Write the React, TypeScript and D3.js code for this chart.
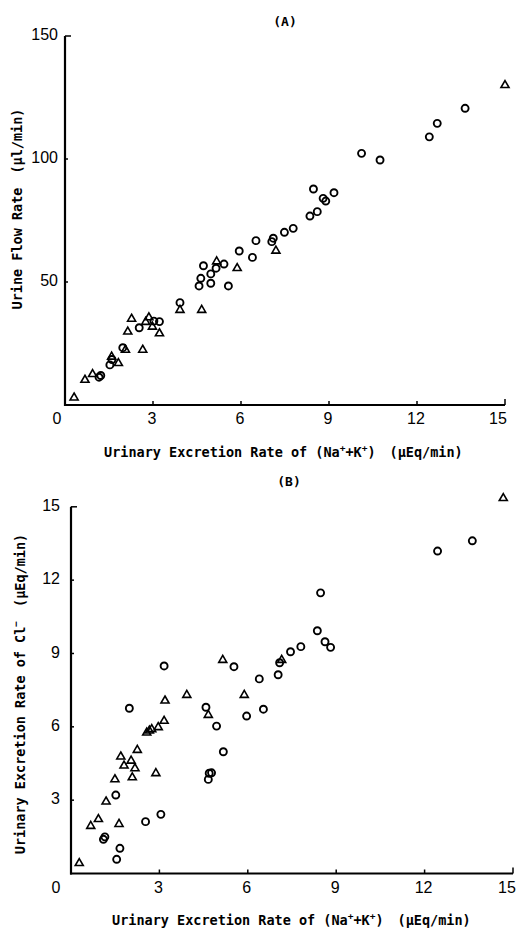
import * as d3 from "d3";

// panel A: urine flow vs Na+K excretion
const aCircles: [number, number][] = [
  [1.16, 11.3], [1.22, 12.0], [1.53, 16.3], [1.6, 18.5], [1.97, 23.3], [2.53, 31.4],
  [3.03, 34.1], [3.22, 33.9], [3.92, 41.6], [4.57, 48.4], [4.63, 51.5], [4.72, 56.6],
  [4.97, 53.3], [4.97, 49.5], [5.15, 55.6], [5.42, 57.3], [5.57, 48.4], [5.94, 62.6],
  [6.39, 60.0], [6.51, 66.8], [7.05, 66.4], [7.1, 67.8], [7.48, 70.2], [7.78, 71.8],
  [8.35, 76.8], [8.6, 78.6], [8.47, 87.8], [8.8, 84.0], [8.89, 82.9], [9.17, 86.3],
  [10.11, 102.3], [10.74, 99.6], [12.42, 109.0], [12.69, 114.5], [13.64, 120.6],
];
const aTriangles: [number, number][] = [
  [0.31, 3.0], [0.68, 10.2], [0.94, 12.5], [1.59, 19.6], [1.82, 17.0], [2.06, 22.4],
  [2.14, 29.8], [2.27, 35.0], [2.65, 22.4], [2.86, 35.6], [2.75, 33.7], [2.98, 31.8],
  [3.22, 29.1], [3.92, 38.6], [4.66, 38.6], [5.17, 58.3], [5.87, 55.6], [7.19, 62.7],
  [15.0, 130.0],
];

// panel B: Cl excretion vs Na+K excretion
const bCircles: [number, number][] = [
  [1.1, 1.4], [1.15, 1.5], [1.52, 3.21], [1.66, 1.03], [1.55, 0.58], [1.98, 6.76],
  [2.53, 2.12], [3.05, 2.42], [3.16, 8.49], [4.58, 6.8], [4.66, 3.85], [4.69, 4.1],
  [4.77, 4.12], [4.94, 6.03], [5.17, 4.98], [5.53, 8.46], [5.96, 6.44], [6.39, 7.96],
  [6.53, 6.72], [7.03, 8.13], [7.08, 8.62], [7.45, 9.07], [7.8, 9.28], [8.36, 9.93],
  [8.62, 9.48], [8.81, 9.25], [8.47, 11.48], [12.44, 13.19], [13.62, 13.61],
];
const bTriangles: [number, number][] = [
  [0.28, 0.42], [0.67, 1.94], [0.93, 2.22], [1.19, 2.94], [1.49, 3.85], [1.63, 2.02],
  [1.69, 4.78], [1.8, 4.41], [2.04, 4.61], [2.17, 4.3], [2.08, 3.93], [2.25, 5.05],
  [2.57, 5.76], [2.66, 5.84], [2.74, 5.9], [2.88, 4.1], [2.96, 5.98], [3.16, 6.24],
  [3.19, 7.07], [3.93, 7.3], [4.66, 6.48], [5.15, 8.73], [5.88, 7.3], [7.15, 8.73],
  [14.67, 15.35],
];

const xTicks = [0, 3, 6, 9, 12, 15];
const aYTicks = [50, 100, 150];
const bYTicks = [3, 6, 9, 12, 15];

const MONO = "'DejaVu Sans Mono', monospace";
const NUM = "'Liberation Sans Narrow', 'Liberation Sans', Arial, sans-serif";
const LABEL_SIZE = 13.5;

type PanelProps = {
  circles: [number, number][];
  triangles: [number, number][];
  x0: number; x1: number; y0: number; y1: number;
  yMax: number;
  yTicks: number[];
  title: string;
  titleX: number;
  titleY: number;
  zeroDx: number;
  yTickDx: number;
  lastDx: number;
  xLabelX: number;
  xLabelY: number;
  yLabelX: number;
  yLabelY: number;
  yLabel: any;
};

function XLabel({ x, y }: { x: number; y: number }) {
  return (
    <text x={x} y={y} fontFamily={MONO} fontWeight="bold" fontSize={LABEL_SIZE} dominantBaseline="middle">
      Urinary Excretion Rate of (Na
      <tspan dy={-5} fontSize={9.5}>+</tspan>
      <tspan dy={5}>+K</tspan>
      <tspan dy={-5} fontSize={9.5}>+</tspan>
      <tspan dy={5}>)</tspan>
      <tspan dx={14}>(μEq/min)</tspan>
    </text>
  );
}

function Panel(p: PanelProps) {
  const x = d3.scaleLinear().domain([0, 15]).range([p.x0, p.x1]);
  const y = d3.scaleLinear().domain([0, p.yMax]).range([p.y0, p.y1]);
  const tri = d3.symbol().type(d3.symbolTriangle).size(28)();
  return (
    <g>
      <text x={p.titleX} y={p.titleY} textAnchor="middle" dominantBaseline="middle"
        fontFamily={MONO} fontWeight="bold" fontSize={13}>{p.title}</text>
      <line x1={p.x0} x2={p.x0} y1={y(p.yMax)} y2={p.y0 + 1} stroke="#000" strokeWidth={2.2} />
      <line x1={p.x0 - 1} x2={p.x1} y1={p.y0} y2={p.y0} stroke="#000" strokeWidth={2.2} />
      {xTicks.map((t) => (
        <g key={"x" + t}>
          {t > 0 && <line x1={x(t)} x2={x(t)} y1={p.y0} y2={p.y0 - (t === 15 ? 6 : 4)} stroke="#000" strokeWidth={1.5} />}
          <text x={x(t) + (t === 0 ? p.zeroDx : t === 15 ? p.lastDx : -1)} y={p.y0 + 15}
            textAnchor="middle" dominantBaseline="middle"
            fontFamily={NUM} fontSize={16}>{t}</text>
        </g>
      ))}
      {p.yTicks.map((t) => (
        <g key={"y" + t}>
          <line x1={p.x0} x2={p.x0 + (t === p.yMax ? 6 : 3)} y1={y(t)} y2={y(t)} stroke="#000" strokeWidth={1.5} />
          <text x={p.x0 + p.yTickDx} y={y(t)} textAnchor="end" dominantBaseline="middle"
            fontFamily={NUM} fontSize={16}>{t}</text>
        </g>
      ))}
      {p.circles.map((d, i) => (
        <circle key={"c" + i} cx={x(d[0])} cy={y(d[1])} r={3.5} fill="none" stroke="#000" strokeWidth={1.9} />
      ))}
      {p.triangles.map((d, i) => (
        <path key={"t" + i} d={tri ?? ""} transform={`translate(${x(d[0])},${y(d[1])})`}
          fill="none" stroke="#000" strokeWidth={1.6} />
      ))}
      <text transform={`translate(${p.yLabelX},${p.yLabelY}) rotate(-90)`} textAnchor="middle"
        dominantBaseline="middle" fontFamily={MONO} fontWeight="bold" fontSize={LABEL_SIZE}>
        {p.yLabel}
      </text>
      <XLabel x={p.xLabelX} y={p.xLabelY} />
    </g>
  );
}

export default function App() {
  return (
    <svg width={516} height={931} style={{ position: "absolute", left: 0, top: 0, background: "#fff" }}>
      <Panel
        circles={aCircles} triangles={aTriangles}
        x0={65} x1={505} y0={405} y1={36} yMax={150} yTicks={aYTicks}
        title="(A)" titleX={285} titleY={22}
        zeroDx={-8} yTickDx={-7} lastDx={-7}
        xLabelX={104} xLabelY={453}
        yLabelX={18} yLabelY={209}
        yLabel={<>Urine Flow Rate<tspan dx={14}>(μl/min)</tspan></>}
      />
      <Panel
        circles={bCircles} triangles={bTriangles}
        x0={71} x1={513} y0={873.5} y1={506.8} yMax={15} yTicks={bYTicks}
        title="(B)" titleX={289} titleY={482}
        zeroDx={-15} yTickDx={-11} lastDx={-6}
        xLabelX={112} xLabelY={921}
        yLabelX={21} yLabelY={694}
        yLabel={<>Urinary Excretion Rate of Cl<tspan dy={-5} fontSize={9.5}>−</tspan><tspan dy={5} dx={14}>(μEq/min)</tspan></>}
      />
    </svg>
  );
}
